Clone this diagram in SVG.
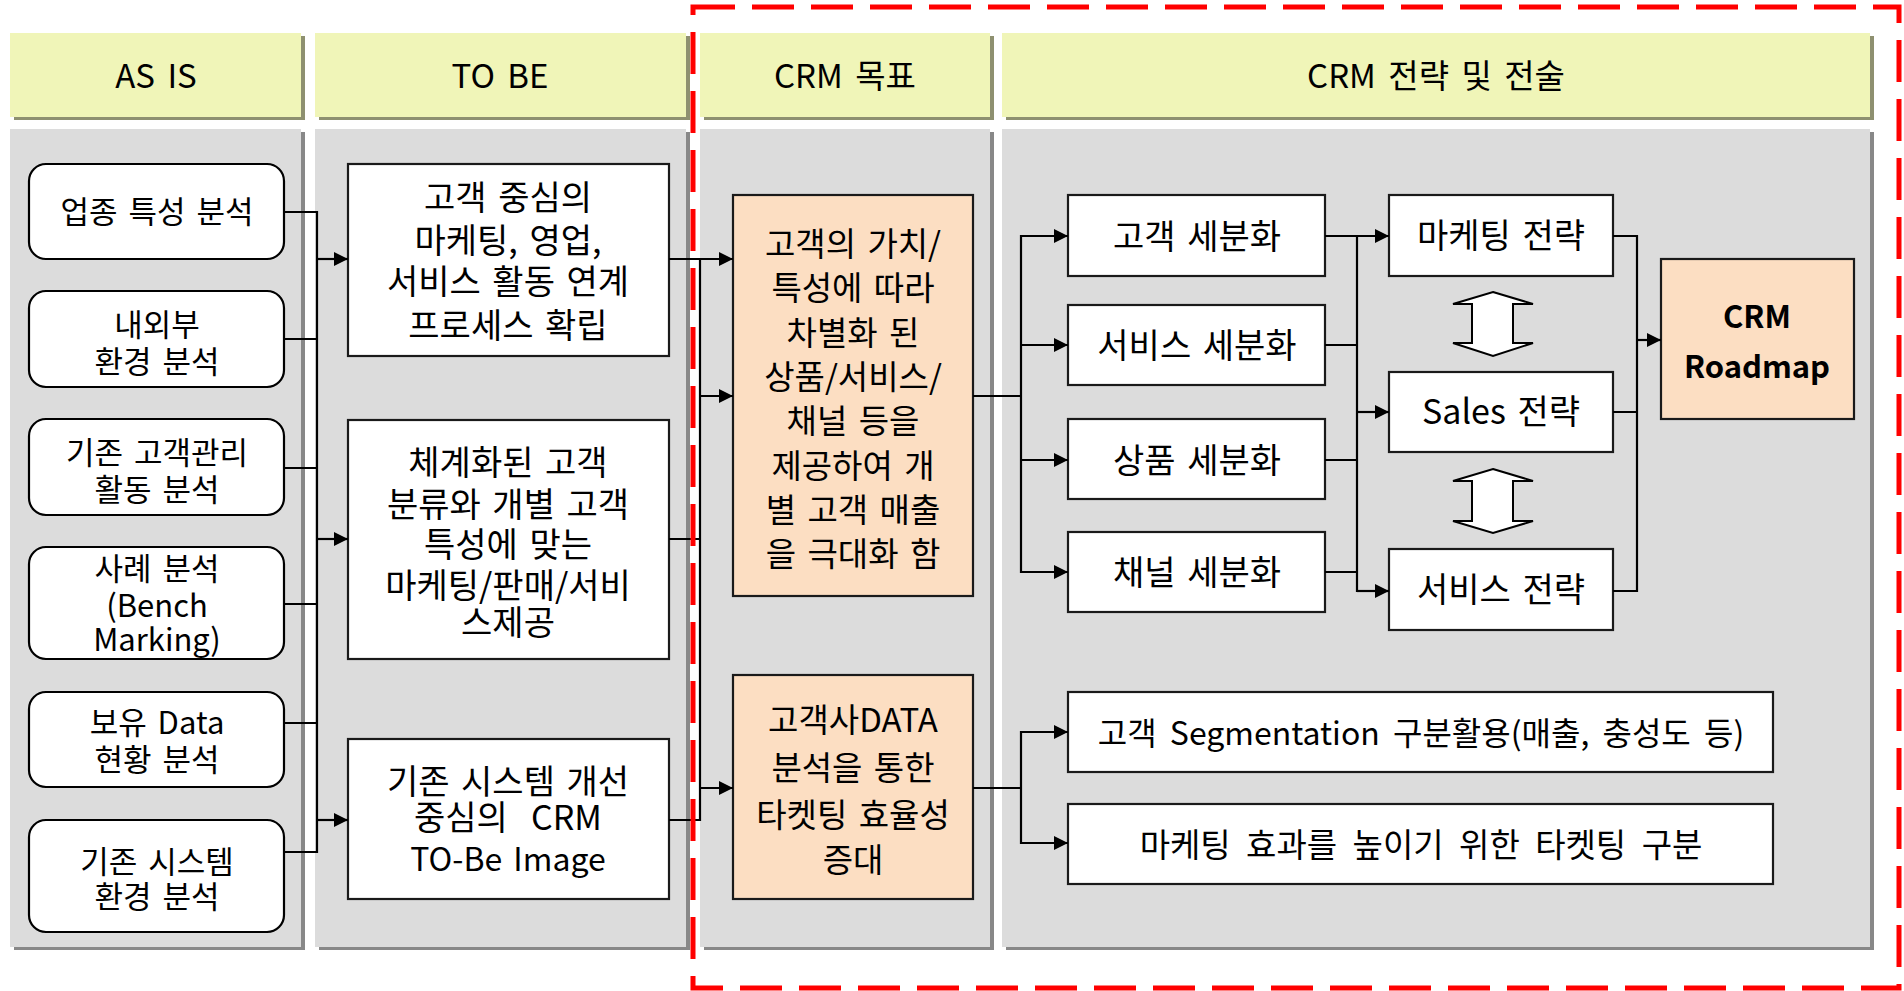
<svg xmlns="http://www.w3.org/2000/svg" width="1904" height="991" viewBox="0 0 1904 991">
  <defs>
    <marker id="arrow" markerUnits="userSpaceOnUse" viewBox="0 0 14 14" refX="14" refY="7" markerWidth="14" markerHeight="14" orient="auto">
      <path d="M0,0 L14,7 L0,14 Z" fill="#000"/>
    </marker>
    <style>
      text { font-family: "Noto Sans CJK KR", sans-serif; font-size: 34px; fill: #000; text-anchor: middle; word-spacing: 4px; }
      .hdr-shadow { fill: #8E9070; }
      .hdr { fill: #F0F5B8; }
      .hdr-text { font-size: 33px; word-spacing: 5px; }
      .panel-shadow { fill: #888888; }
      .panel { fill: #DCDCDC; }
      .rbox { fill: #FFFFFF; stroke: #000; stroke-width: 2.2; }
      .box { fill: #FFFFFF; stroke: #1A1A1A; stroke-width: 2.2; }
      .goal { fill: #FCDEC2; stroke: #1A1A1A; stroke-width: 2.2; }
      .small { font-size: 31px; word-spacing: 4px; }
      .latin { font-size: 32px; }
      .goal-text { font-size: 33px; }
      .wide-text { font-size: 32px; word-spacing: 6px; }
      .wide-text2 { font-size: 33px; word-spacing: 8px; }
      .bold { font-weight: bold; font-size: 31px; }
      .wire { fill: none; stroke: #000; stroke-width: 2.2; }
      .arr { fill: none; stroke: #000; stroke-width: 2.2; marker-end: url(#arrow); }
      .dbl { fill: #FFFFFF; stroke: #000; stroke-width: 2; }
      .frame { fill: none; stroke: #FF0000; stroke-width: 5; stroke-dasharray: 42 17; }
    </style>
  </defs>

  <rect width="1904" height="991" fill="#FFFFFF"/>

  <!-- column headers -->
  <g id="header-asis">
    <rect class="hdr-shadow" x="14" y="36" width="291" height="84"/>
    <rect class="hdr" x="10" y="33" width="291" height="84"/>
    <text class="hdr-text" x="156" y="88">AS IS</text>
  </g>
  <g id="header-tobe">
    <rect class="hdr-shadow" x="319" y="36" width="371" height="84"/>
    <rect class="hdr" x="315" y="33" width="371" height="84"/>
    <text class="hdr-text" x="500" y="88">TO BE</text>
  </g>
  <g id="header-goal">
    <rect class="hdr-shadow" x="704" y="36" width="290" height="84"/>
    <rect class="hdr" x="700" y="33" width="290" height="84"/>
    <text class="hdr-text" x="845" y="88">CRM 목표</text>
  </g>
  <g id="header-strategy">
    <rect class="hdr-shadow" x="1006" y="36" width="868" height="84"/>
    <rect class="hdr" x="1002" y="33" width="868" height="84"/>
    <text class="hdr-text" x="1436" y="88">CRM 전략 및 전술</text>
  </g>

  <!-- column bodies -->
  <g id="panels">
    <rect class="panel-shadow" x="14" y="132" width="291" height="818"/>
    <rect class="panel" x="10" y="129" width="291" height="818"/>
    <rect class="panel-shadow" x="319" y="132" width="371" height="818"/>
    <rect class="panel" x="315" y="129" width="371" height="818"/>
    <rect class="panel-shadow" x="704" y="132" width="290" height="818"/>
    <rect class="panel" x="700" y="129" width="290" height="818"/>
    <rect class="panel-shadow" x="1006" y="132" width="868" height="818"/>
    <rect class="panel" x="1002" y="129" width="868" height="818"/>
  </g>

  <!-- AS IS nodes -->
  <g id="asis-industry">
    <rect class="rbox" x="29" y="164" width="255" height="95" rx="17"/>
    <text class="small" x="157" y="223">업종 특성 분석</text>
  </g>
  <g id="asis-environment">
    <rect class="rbox" x="29" y="291" width="255" height="96" rx="17"/>
    <text class="small" x="157" y="336">내외부</text>
    <text class="small" x="157" y="373">환경 분석</text>
  </g>
  <g id="asis-customer-mgmt">
    <rect class="rbox" x="29" y="419" width="255" height="96" rx="17"/>
    <text class="small" x="157" y="464">기존 고객관리</text>
    <text class="small" x="157" y="501">활동 분석</text>
  </g>
  <g id="asis-benchmark">
    <rect class="rbox" x="29" y="547" width="255" height="112" rx="17"/>
    <text class="small" x="157" y="580">사례 분석</text>
    <text class="small" x="157" y="617">(Bench</text>
    <text class="small" x="157" y="651">Marking)</text>
  </g>
  <g id="asis-data">
    <rect class="rbox" x="29" y="692" width="255" height="95" rx="17"/>
    <text class="small" x="157" y="734">보유 Data</text>
    <text class="small" x="157" y="771">현황 분석</text>
  </g>
  <g id="asis-system">
    <rect class="rbox" x="29" y="820" width="255" height="112" rx="17"/>
    <text class="small" x="157" y="873">기존 시스템</text>
    <text class="small" x="157" y="908">환경 분석</text>
  </g>

  <!-- TO BE nodes -->
  <g id="tobe-process">
    <rect class="box" x="348" y="164" width="321" height="192"/>
    <text x="508" y="210">고객 중심의</text>
    <text x="508" y="253">마케팅, 영업,</text>
    <text x="508" y="294">서비스 활동 연계</text>
    <text x="508" y="338">프로세스 확립</text>
  </g>
  <g id="tobe-segment">
    <rect class="box" x="348" y="420" width="321" height="239"/>
    <text x="508" y="475">체계화된 고객</text>
    <text x="508" y="517">분류와 개별 고객</text>
    <text x="508" y="557">특성에 맞는</text>
    <text x="508" y="598">마케팅/판매/서비</text>
    <text x="508" y="635">스제공</text>
  </g>
  <g id="tobe-system">
    <rect class="box" x="348" y="739" width="321" height="160"/>
    <text x="508" y="794">기존 시스템 개선</text>
    <text x="508" y="830" xml:space="preserve">중심의  CRM</text>
    <text class="latin" x="508" y="871">TO-Be Image</text>
  </g>

  <!-- CRM goal nodes -->
  <g id="goal-value">
    <rect class="goal" x="733" y="195" width="240" height="401"/>
    <text class="goal-text" x="853" y="256">고객의 가치/</text>
    <text class="goal-text" x="853" y="300">특성에 따라</text>
    <text class="goal-text" x="853" y="345">차별화 된</text>
    <text class="goal-text" x="853" y="389">상품/서비스/</text>
    <text class="goal-text" x="853" y="433">채널 등을</text>
    <text class="goal-text" x="853" y="478">제공하여 개</text>
    <text class="goal-text" x="853" y="522">별 고객 매출</text>
    <text class="goal-text" x="853" y="566">을 극대화 함</text>
  </g>
  <g id="goal-targeting">
    <rect class="goal" x="733" y="675" width="240" height="224"/>
    <text class="goal-text" x="853" y="732">고객사DATA</text>
    <text class="goal-text" x="853" y="780">분석을 통한</text>
    <text class="goal-text" x="853" y="827">타켓팅 효율성</text>
    <text class="goal-text" x="853" y="872">증대</text>
  </g>

  <!-- segmentation nodes -->
  <g id="seg-customer">
    <rect class="box" x="1068" y="195" width="257" height="81"/>
    <text x="1197" y="249">고객 세분화</text>
  </g>
  <g id="seg-service">
    <rect class="box" x="1068" y="305" width="257" height="80"/>
    <text x="1197" y="358">서비스 세분화</text>
  </g>
  <g id="seg-product">
    <rect class="box" x="1068" y="419" width="257" height="80"/>
    <text x="1197" y="473">상품 세분화</text>
  </g>
  <g id="seg-channel">
    <rect class="box" x="1068" y="532" width="257" height="80"/>
    <text x="1197" y="585">채널 세분화</text>
  </g>

  <!-- strategy nodes -->
  <g id="strategy-marketing">
    <rect class="box" x="1389" y="195" width="224" height="81"/>
    <text x="1501" y="248">마케팅 전략</text>
  </g>
  <g id="strategy-sales">
    <rect class="box" x="1389" y="372" width="224" height="80"/>
    <text x="1501" y="424">Sales 전략</text>
  </g>
  <g id="strategy-service">
    <rect class="box" x="1389" y="549" width="224" height="81"/>
    <text x="1501" y="602">서비스 전략</text>
  </g>
  <g id="roadmap">
    <rect class="goal" x="1661" y="259" width="193" height="160"/>
    <text class="bold" x="1757" y="328">CRM</text>
    <text class="bold" x="1757" y="378">Roadmap</text>
  </g>

  <!-- targeting detail nodes -->
  <g id="target-segmentation">
    <rect class="box" x="1068" y="692" width="705" height="80"/>
    <text class="wide-text" x="1421" y="745">고객 Segmentation 구분활용(매출, 충성도 등)</text>
  </g>
  <g id="target-marketing">
    <rect class="box" x="1068" y="804" width="705" height="80"/>
    <text class="wide-text2" x="1421" y="857">마케팅 효과를 높이기 위한 타켓팅 구분</text>
  </g>

  <!-- two-way links between strategies -->
  <g id="links-strategy">
    <path class="dbl" d="M1493,292 L1533,304 L1513,304 L1513,343 L1533,343 L1493,356 L1453,343 L1472,343 L1472,304 L1453,304 Z"/>
    <path class="dbl" d="M1493,469 L1533,481 L1513,481 L1513,521 L1533,521 L1493,533 L1453,521 L1472,521 L1472,481 L1453,481 Z"/>
  </g>

  <!-- connectors -->
  <g id="connectors">
    <!-- AS IS to TO BE -->
    <path class="wire" d="M284,212 H317 M284,339 H317 M284,468 H317 M284,604 H317 M284,723 H317 M284,852 H317 M317,211 V853"/>
    <path class="arr" d="M317,259 H348"/>
    <path class="arr" d="M317,539 H348"/>
    <path class="arr" d="M317,820 H348"/>
    <!-- TO BE to CRM goals -->
    <path class="arr" d="M669,259 H733"/>
    <path class="wire" d="M669,539 H700 M669,820 H700 M700,258 V821"/>
    <path class="arr" d="M700,396 H733"/>
    <path class="arr" d="M700,788 H733"/>
    <!-- value goal to segmentation -->
    <path class="wire" d="M973,396 H1021 M1021,235 V573"/>
    <path class="arr" d="M1021,236 H1068"/>
    <path class="arr" d="M1021,345 H1068"/>
    <path class="arr" d="M1021,460 H1068"/>
    <path class="arr" d="M1021,572 H1068"/>
    <!-- segmentation to strategies -->
    <path class="wire" d="M1325,345 H1357 M1325,460 H1357 M1325,572 H1357 M1357,235 V592"/>
    <path class="arr" d="M1325,236 H1389"/>
    <path class="arr" d="M1357,412 H1389"/>
    <path class="arr" d="M1357,591 H1389"/>
    <!-- strategies to roadmap -->
    <path class="wire" d="M1613,236 H1637 M1613,412 H1637 M1613,591 H1637 M1637,235 V592"/>
    <path class="arr" d="M1637,340 H1661"/>
    <!-- targeting goal to detail boxes -->
    <path class="wire" d="M973,788 H1021 M1021,731 V844"/>
    <path class="arr" d="M1021,732 H1068"/>
    <path class="arr" d="M1021,843 H1068"/>
  </g>

  <!-- dashed scope frame -->
  <rect class="frame" x="693" y="7" width="1206" height="981"/>
</svg>
